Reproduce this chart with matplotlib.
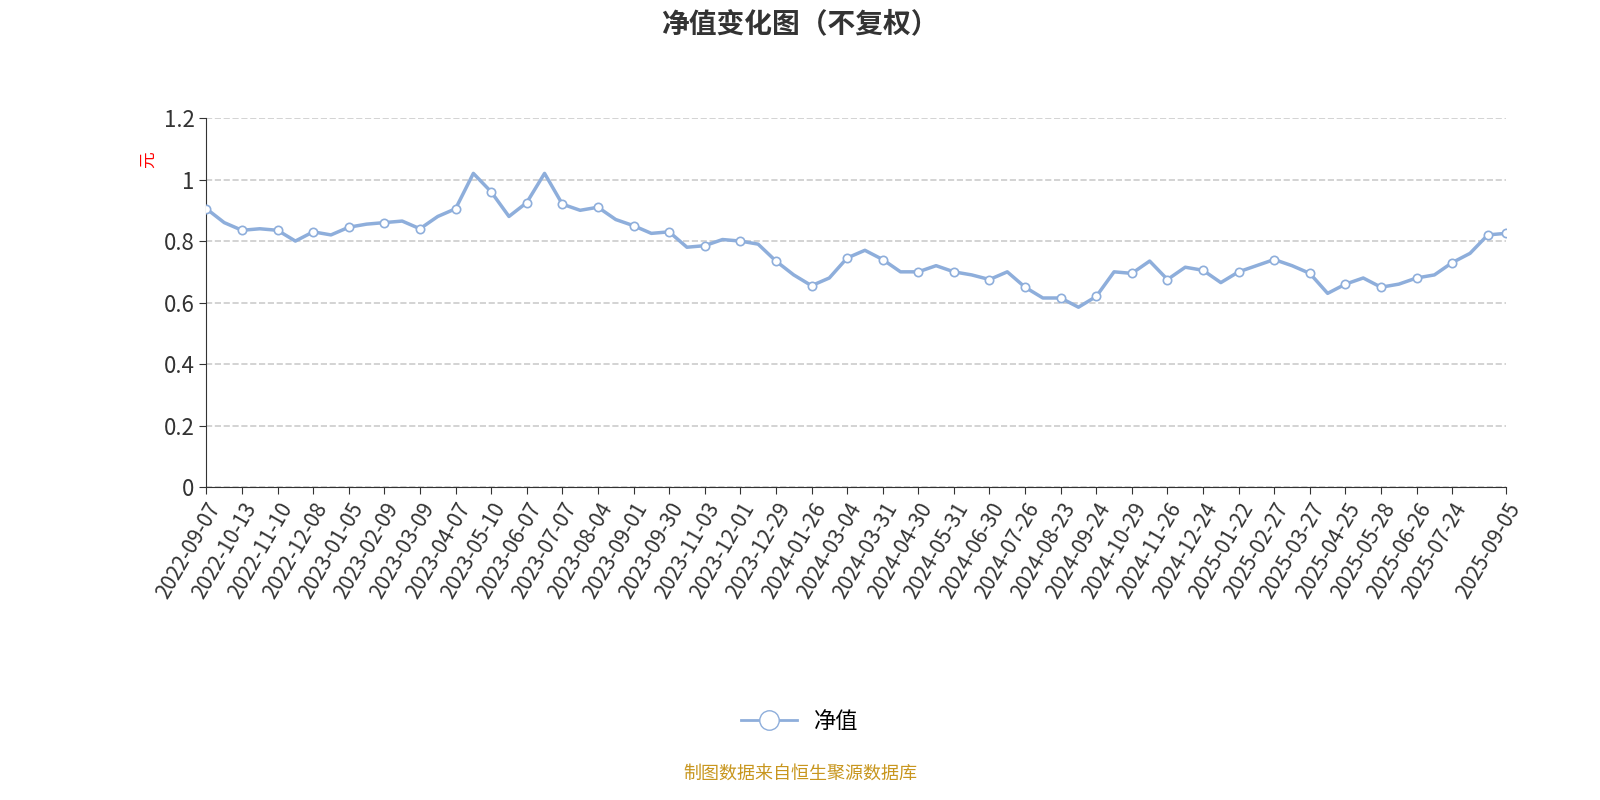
import matplotlib.pyplot as plt
from matplotlib.lines import Line2D

plt.rcParams['font.family'] = ['Noto Sans CJK SC', 'DejaVu Sans']

tick_labels = ['2022-09-07', '2022-10-13', '2022-11-10', '2022-12-08', '2023-01-05', '2023-02-09',
               '2023-03-09', '2023-04-07', '2023-05-10', '2023-06-07', '2023-07-07', '2023-08-04',
               '2023-09-01', '2023-09-30', '2023-11-03', '2023-12-01', '2023-12-29', '2024-01-26',
               '2024-03-04', '2024-03-31', '2024-04-30', '2024-05-31', '2024-06-30', '2024-07-26',
               '2024-08-23', '2024-09-24', '2024-10-29', '2024-11-26', '2024-12-24', '2025-01-22',
               '2025-02-27', '2025-03-27', '2025-04-25', '2025-05-28', '2025-06-26', '2025-07-24',
               '2025-09-05']

# net value, two points per tick interval
nav = [0.905, 0.86, 0.835, 0.84, 0.835, 0.80, 0.83, 0.82, 0.845, 0.855,
       0.86, 0.865, 0.84, 0.88, 0.905, 1.02, 0.96, 0.88, 0.925, 1.02,
       0.92, 0.90, 0.91, 0.87, 0.85, 0.825, 0.83, 0.78, 0.785, 0.805,
       0.80, 0.79, 0.735, 0.69, 0.655, 0.68, 0.745, 0.77, 0.74, 0.70,
       0.70, 0.72, 0.70, 0.69, 0.675, 0.70, 0.65, 0.615, 0.615, 0.585,
       0.62, 0.70, 0.695, 0.735, 0.675, 0.715, 0.705, 0.665, 0.70, 0.72,
       0.74, 0.72, 0.695, 0.63, 0.66, 0.68, 0.65, 0.66, 0.68, 0.69,
       0.73, 0.76, 0.82, 0.825]

x = list(range(len(nav)))
mark_idx = list(range(0, 71, 2)) + [72, len(nav) - 1]
tick_pos = list(range(0, 71, 2)) + [len(nav) - 1]

fig = plt.figure(figsize=(16, 8), dpi=100)
ax = fig.add_axes([0.129, 0.391, 0.812, 0.4615])
color = '#8eaedb'
ax.plot(x, nav, color=color, lw=2.5, zorder=3)
ax.plot([x[i] for i in mark_idx], [nav[i] for i in mark_idx], 'o', ms=6,
        mfc='white', mec=color, mew=1.2, zorder=4)

ax.set_xlim(0, len(nav) - 1)
ax.set_ylim(0, 1.2)
ax.set_yticks([0, 0.2, 0.4, 0.6, 0.8, 1.0, 1.2])
ax.set_yticklabels(['0', '0.2', '0.4', '0.6', '0.8', '1', '1.2'], fontsize=16, color='#333333')
ax.set_xticks(tick_pos)
ax.set_xticklabels(tick_labels, rotation=60, ha='right', rotation_mode='anchor', fontsize=15, color='#333333')
ax.grid(axis='y', ls='--', color='#cccccc', lw=1.2)
for s in ['top', 'right']:
    ax.spines[s].set_visible(False)
ax.spines['left'].set_color('#333333')
ax.spines['bottom'].set_color('#333333')
ax.tick_params(length=5, color='#333333')
ax.set_axisbelow(True)

fig.text(0.093, 0.80, '元', color='red', fontsize=12, rotation=90, ha='center', va='center')
fig.text(0.5, 0.97, '净值变化图（不复权）', ha='center', va='center', fontsize=20, fontweight='bold', color='#333333')

h = Line2D([], [], color=color, lw=2, marker='o', ms=14, mfc='white', mec=color)
fig.legend([h], ['净值'], loc='center', bbox_to_anchor=(0.5, 0.098), frameon=False, fontsize=16,
           handlelength=2.5)
fig.text(0.5, 0.033, '制图数据来自恒生聚源数据库', ha='center', va='center', fontsize=13, color='#c8961e')

fig.savefig('out.png')
